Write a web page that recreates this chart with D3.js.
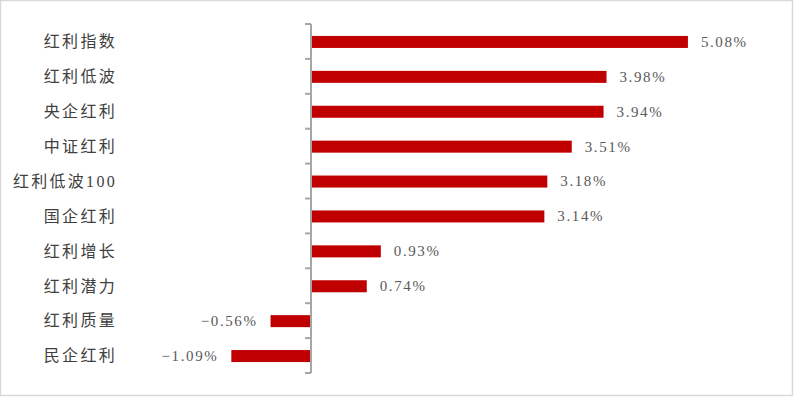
<!DOCTYPE html>
<html>
<head>
<meta charset="utf-8">
<script src="https://cdn.jsdelivr.net/npm/d3@7"></script>
<style>
  html, body { margin: 0; padding: 0; background: #fff; }
  svg { display: block; }
</style>
</head>
<body>
<div id="chart"></div>
<script>
// Data
const categories = ["红利指数", "红利低波", "央企红利", "中证红利", "红利低波100",
                    "国企红利", "红利增长", "红利潜力", "红利质量", "民企红利"];
const values = [5.08, 3.98, 3.94, 3.51, 3.18, 3.14, 0.93, 0.74, -0.56, -1.09];

const width = 794, height = 397;
const fontFamily = '"Liberation Serif", "Noto Sans CJK SC", serif';

const svg = d3.select("#chart").append("svg")
  .attr("width", width)
  .attr("height", height);

// Outer frame
svg.append("rect")
  .attr("x", 0.5).attr("y", 0.5)
  .attr("width", width - 2).attr("height", height - 2)
  .attr("fill", "#fff")
  .attr("stroke", "#d9d9d9")
  .attr("stroke-width", 1.5);

// Scales
const x = d3.scaleLinear().domain([-2, 6]).range([164, 756]);
const y = d3.scaleBand()
  .domain(categories)
  .range([24, 373])
  .paddingInner(0)
  .paddingOuter(0);
const barH = 12;

const data = categories.map((c, i) => ({ name: c, value: values[i] }));

// Bars
svg.selectAll(".bar")
  .data(data)
  .enter()
  .append("rect")
  .attr("class", "bar")
  .attr("x", d => x(Math.min(0, d.value)))
  .attr("y", d => y(d.name) + y.bandwidth() / 2 - barH / 2 + 0.5)
  .attr("width", d => Math.abs(x(d.value) - x(0)))
  .attr("height", barH)
  .attr("fill", "#c00000");

// Vertical axis with ticks at band boundaries
const axisX = x(0) - 1;
const axisG = svg.append("g").attr("class", "axis");
axisG.append("line")
  .attr("x1", axisX).attr("x2", axisX)
  .attr("y1", y.range()[0]).attr("y2", y.range()[1])
  .attr("stroke", "#a6a6a6")
  .attr("stroke-width", 2);
const boundaries = categories.map(c => y(c)).concat([y.range()[1]]);
axisG.selectAll(".tick")
  .data(boundaries)
  .enter()
  .append("line")
  .attr("class", "tick")
  .attr("x1", axisX - 6).attr("x2", axisX)
  .attr("y1", d => d).attr("y2", d => d)
  .attr("stroke", "#a6a6a6")
  .attr("stroke-width", 2);

// Category labels
svg.selectAll(".cat")
  .data(data)
  .enter()
  .append("text")
  .attr("class", "cat")
  .attr("x", 117)
  .attr("y", d => y(d.name) + y.bandwidth() / 2)
  .attr("dy", "0.36em")
  .attr("text-anchor", "end")
  .attr("font-family", fontFamily)
  .attr("font-size", "16px")
  .attr("letter-spacing", "2.3px")
  .attr("fill", "#404040")
  .text(d => d.name);

// Value labels
svg.selectAll(".val")
  .data(data)
  .enter()
  .append("text")
  .attr("class", "val")
  .attr("x", d => d.value >= 0 ? x(d.value) + 13 : x(d.value) - 13)
  .attr("y", d => y(d.name) + y.bandwidth() / 2)
  .attr("dy", "0.36em")
  .attr("text-anchor", d => d.value >= 0 ? "start" : "end")
  .attr("font-family", fontFamily)
  .attr("font-size", "15px")
  .attr("letter-spacing", "1.6px")
  .attr("fill", "#595959")
  .text(d => d.value.toFixed(2).replace("-", "−") + "%");
</script>
</body>
</html>
